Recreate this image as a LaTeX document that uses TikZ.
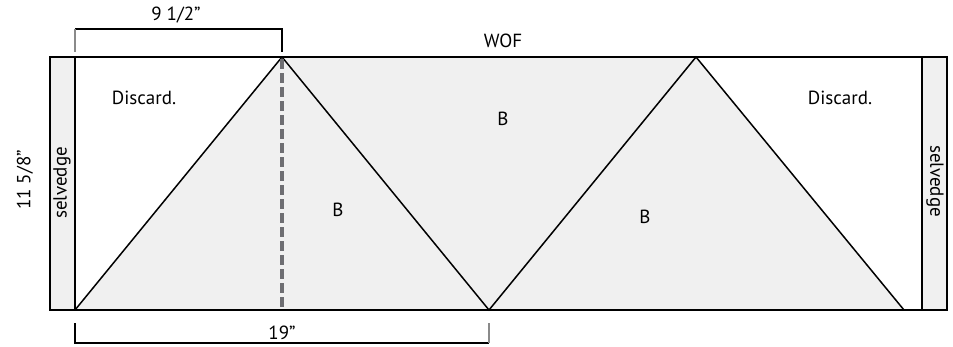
\documentclass[tikz,border=0pt]{standalone}
\usepackage{fontspec}
\setmainfont{PT Sans}
\definecolor{fabric}{HTML}{F0F0F0}
\definecolor{cutgray}{HTML}{6E6E72}
\definecolor{tickgray}{HTML}{8A8A8A}
\tikzset{
    lbl/.style={font=\fontsize{19}{21}\selectfont, inner sep=0pt},
    edge/.style={line width=1.8pt},
    diag/.style={line width=1.5pt},
    dim/.style={line width=1.3pt},
}
\begin{document}
\begin{tikzpicture}[x=1pt,y=-1pt]
    \useasboundingbox (0,0) rectangle (953,346);

    % fabric strip
    \fill[fabric] (75,310) -- (282,57) -- (696,57) -- (904,310) -- cycle;
    \draw[edge, fill=fabric] (50,57) rectangle (75,310);
    \draw[edge, fill=fabric] (922,57) rectangle (947,310);
    \draw[edge] (75,57) -- (922,57);
    \draw[edge] (75,310) -- (922,310);
    \draw[diag] (75,310) -- (282,57) -- (489,310) -- (696,57) -- (904,310);
    \draw[cutgray, line width=3.5pt, dash pattern=on 10pt off 4pt] (282,59) -- (282,310);

    % dimensions
    \draw[dim] (75,29) -- (282,29) -- (282,52);
    \draw[dim, tickgray] (75,29) -- (75,52);
    \draw[dim] (75,323) -- (75,343) -- (489,343);
    \draw[dim, tickgray] (489,343) -- (489,323);

    % labels
    \node[lbl] (half) at (176,15) {9 1/2”};
    \node[lbl] (wof) at (503,41) {WOF};
    \node[lbl] (len) at (282,333) {19”};
    \node[lbl, rotate=90] (height) at (25,180) {11 5/8”};
    \node[lbl, rotate=90] (selL) at (62,183) {selvedge};
    \node[lbl, rotate=-90] (selR) at (935,181) {selvedge};
    \node[lbl] (discL) at (144,98) {Discard.};
    \node[lbl] (discR) at (840,98) {Discard.};
    \node[lbl] (bTop) at (503,119) {B};
    \node[lbl] (bLeft) at (338,210) {B};
    \node[lbl] (bRight) at (645,217) {B};
\end{tikzpicture}
\end{document}
